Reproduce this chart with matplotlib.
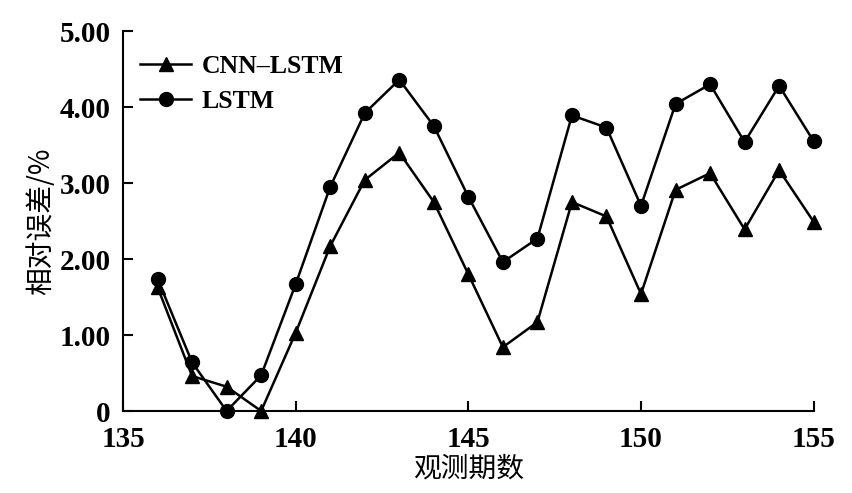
import matplotlib.pyplot as plt
from matplotlib.ticker import FuncFormatter

# Data
periods = list(range(136, 156))
cnn_lstm = [1.63, 0.46, 0.32, 0.00, 1.03, 2.17, 3.04, 3.40, 2.75, 1.80,
            0.84, 1.17, 2.75, 2.56, 1.54, 2.91, 3.13, 2.39, 3.17, 2.49]
lstm = [1.74, 0.64, 0.00, 0.47, 1.67, 2.95, 3.92, 4.36, 3.75, 2.82,
        1.96, 2.27, 3.89, 3.73, 2.70, 4.04, 4.30, 3.54, 4.28, 3.55]
x_ticks = [135, 140, 145, 150, 155]
y_ticks = [0, 1, 2, 3, 4, 5]

serif = ['Liberation Serif', 'DejaVu Serif']
cjk = ['Noto Sans CJK SC', 'Liberation Serif']

fig = plt.figure(figsize=(8.52, 4.93), dpi=100)
ax = fig.add_axes([0.1444, 0.1663, 0.8106, 0.7707])

ax.plot(periods, cnn_lstm, color='black', lw=1.8, marker='^', markersize=10.5,
        label='CNN\u2013LSTM', clip_on=False)
ax.plot(periods, lstm, color='black', lw=1.8, marker='o', markersize=10,
        label='LSTM', clip_on=False)

ax.set_xlim(135, 155)
ax.set_ylim(0, 5)
ax.set_xticks(x_ticks)
ax.set_yticks(y_ticks)
ax.yaxis.set_major_formatter(FuncFormatter(lambda v, p: '0' if v == 0 else f'{v:.2f}'))

ax.spines['top'].set_visible(False)
ax.spines['right'].set_visible(False)
for s in ['left', 'bottom']:
    ax.spines[s].set_linewidth(1.5)
ax.tick_params(direction='in', length=7, width=1.5)
ax.tick_params(axis='x', pad=11)
ax.tick_params(axis='y', pad=9)

for lab in ax.get_xticklabels() + ax.get_yticklabels():
    lab.set_fontfamily(serif)
    lab.set_fontsize(21)
    lab.set_fontweight('bold')

ax.set_xlabel('观测期数', fontsize=20, family=cjk, fontweight='medium', labelpad=0)
ax.set_ylabel('相对误差/%', fontsize=20, family=cjk, fontweight='medium', labelpad=2)

leg = ax.legend(loc='upper left', frameon=False, handlelength=2.0,
                handletextpad=0.4, bbox_to_anchor=(0.0246, 0.937),
                borderaxespad=0, borderpad=0, labelspacing=0.45,
                prop={'family': serif, 'size': 18.5, 'weight': 'bold'})

fig.savefig('out.png', dpi=100)
